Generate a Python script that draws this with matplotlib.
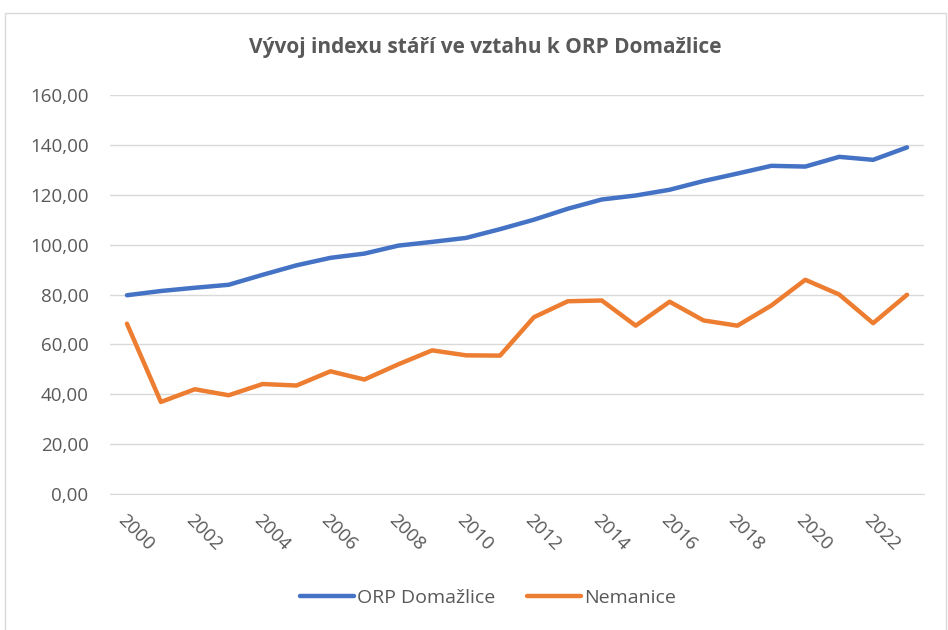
import numpy as np
from matplotlib import pyplot as plt
from matplotlib.patches import Rectangle

plt.rcParams['font.family'] = ['Open Sans', 'DejaVu Sans']
plt.rcParams['axes.unicode_minus'] = False

years = list(range(2000, 2024))
orp_domazlice = [79.7, 81.4, 82.7, 83.9, 87.9, 91.7, 94.7, 96.4, 99.6, 101.1, 102.7, 106.2,
                 110.0, 114.4, 118.1, 119.7, 122.0, 125.5, 128.5, 131.6, 131.3, 135.2, 134.0, 139.0]
nemanice = [68.3, 36.9, 42.0, 39.6, 44.1, 43.5, 49.2, 45.9, 52.0, 57.6, 55.6, 55.5,
            70.9, 77.3, 77.6, 67.5, 77.1, 69.6, 67.5, 75.6, 85.9, 80.0, 68.5, 79.9]
series_names = ['ORP Domažlice', 'Nemanice']

fig = plt.figure(figsize=(9.48, 6.3), dpi=100)
fig.patches.append(Rectangle((5 / 948, -0.01), 941 / 948, 1 - 13 / 630 + 0.01,
                             transform=fig.transFigure, fill=False,
                             edgecolor='#D9D9D9', linewidth=1))

ax = fig.add_axes([110 / 948, 1 - 494 / 630, 814 / 948, 399 / 630])

x = np.arange(len(years))
ax.plot(x, orp_domazlice, color='#4472C4', lw=3.2, label=series_names[0],
        solid_capstyle='round', solid_joinstyle='round')
ax.plot(x, nemanice, color='#ED7D31', lw=3.2, label=series_names[1],
        solid_capstyle='round', solid_joinstyle='round')

ax.set_xlim(-0.5, len(years) - 0.5)
ax.set_ylim(0, 160)
ax.set_yticks(np.arange(0, 161, 20))
ax.set_yticklabels([f'{v:.2f}'.replace('.', ',') for v in np.arange(0, 161, 20)])
ax.set_xticks(x[::2])
ax.set_xticklabels([str(y) for y in years[::2]], rotation=-45, ha='left', va='top',
                   rotation_mode='anchor')

ax.grid(axis='y', color='#D9D9D9', lw=1)
ax.set_axisbelow(True)
for s in ['top', 'right', 'left']:
    ax.spines[s].set_visible(False)
ax.spines['bottom'].set_color('#D9D9D9')
ax.tick_params(axis='both', length=0, colors='#595959', labelsize=13.5)
ax.tick_params(axis='y', pad=15.5)
ax.tick_params(axis='x', pad=12)

fig.text(485 / 948, 1 - 47 / 630, 'Vývoj indexu stáří ve vztahu k ORP Domažlice',
         ha='center', va='center', fontsize=15, fontweight='bold', color='#595959')

fig.legend(loc='center', bbox_to_anchor=(488 / 948, 1 - 598 / 630), ncol=2, frameon=False,
           fontsize=14, labelcolor='#595959', handlelength=2.8, handletextpad=0.15,
           columnspacing=1.6)

fig.savefig('out.png', dpi=100)
